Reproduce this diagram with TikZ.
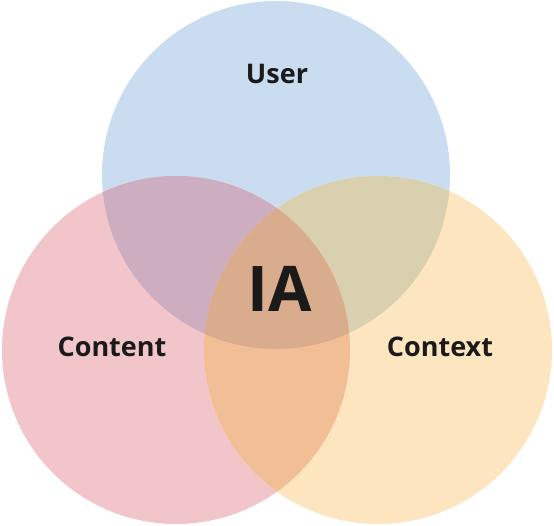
\documentclass[tikz,border=0pt]{standalone}
\usepackage{fontspec}
\setmainfont{Open Sans}
\definecolor{userblue}{HTML}{C9DCF0}
\definecolor{contentpink}{HTML}{F2C5CA}
\definecolor{contextyellow}{HTML}{FDE5C0}
\definecolor{userpink}{HTML}{CDAEC0}
\definecolor{useryellow}{HTML}{D9D0B0}
\definecolor{pinkyellow}{HTML}{F2BE96}
\definecolor{iacore}{HTML}{D9AC8D}
\definecolor{labeltext}{HTML}{1A1A1A}

\begin{document}
    \begin{tikzpicture}[x=1pt, y=1pt,
            label/.style={text=labeltext, font=\bfseries\fontsize{27}{30}\selectfont, inner sep=0pt},
            biglabel/.style={text=labeltext, font=\bfseries\fontsize{63}{70}\selectfont, inner sep=0pt}]
        \useasboundingbox (0, 0) rectangle (554, 525);

        \coordinate (user) at (276, 350);
        \coordinate (content) at (176, 175);
        \coordinate (context) at (378, 175);
        \def\rad{174}

        \begin{scope}
            % single circles
            \fill[userblue]      (user) circle (\rad);
            \fill[contentpink]   (content) circle (\rad);
            \fill[contextyellow] (context) circle (\rad);

            % pairwise overlaps
            \begin{scope}
                \clip (user) circle (\rad);
                \fill[userpink] (content) circle (\rad);
            \end{scope}
            \begin{scope}
                \clip (user) circle (\rad);
                \fill[useryellow] (context) circle (\rad);
            \end{scope}
            \begin{scope}
                \clip (content) circle (\rad);
                \fill[pinkyellow] (context) circle (\rad);
            \end{scope}

            % middle
            \begin{scope}
                \clip (user) circle (\rad);
                \clip (content) circle (\rad);
                \fill[iacore] (context) circle (\rad);
            \end{scope}
        \end{scope}

        \node[label] (userlabel) at (277, 451) {User};
        \node[label] (contentlabel) at (112, 178) {Content};
        \node[label] (contextlabel) at (440, 178) {Context};
        \node[biglabel] (ialabel) at (280, 236) {IA};

    \end{tikzpicture}
\end{document}
